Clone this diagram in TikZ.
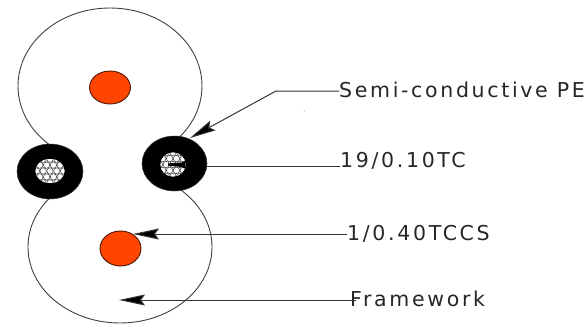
\documentclass[tikz,border=0pt]{standalone}
\usepackage{fontspec}
\setmainfont{DejaVu Sans}[LetterSpace=13]
\usetikzlibrary{arrows.meta}
\definecolor{corecol}{HTML}{FF4500}
\tikzset{
  x=1pt,y=-1pt,
  outline/.style={draw=black!75,line width=0.9pt,fill=white},
  jacket/.style={fill=black,draw=black!80,line width=0.5pt},
  core/.style={fill=corecol,draw=black!70!corecol,line width=0.9pt},
  leader/.style={draw=black!80,line width=1pt},
  headed/.style={leader,-{Stealth[length=26pt,width=11pt,inset=4pt,fill=black]}},
  lab/.style={anchor=base west,inner sep=0pt,font=\fontsize{20.5pt}{24pt}\selectfont,text=black!85}
}
\newcommand{\strands}[2]{%
  \foreach \i in {-3,...,3}{\foreach \j in {-4,...,4}{%
    \pgfmathsetmacro{\px}{#1+\j*6.8+(mod(\i+4,2)==1 ? 3.4 : 0)}%
    \pgfmathsetmacro{\py}{#2+\i*5.9}%
    \draw[fill=white,draw=black!75,line width=0.55pt] (\px,\py) circle[radius=3.2pt];}}}
\begin{document}
\begin{tikzpicture}
\useasboundingbox (0,0) rectangle (587,324);
\path[outline] (110,86) ellipse[x radius=92pt,y radius=78pt];
\path[outline] (120,247) ellipse[x radius=92pt,y radius=76pt];
\fill[white] (60,150) rectangle (170,195);
% cable jackets
\path[jacket] (50,171.5) ellipse[x radius=33pt,y radius=27.5pt];
\path[jacket] (174.5,163.5) ellipse[x radius=32.5pt,y radius=27.5pt];
% conductors
\begin{scope}
\clip (50,171) ellipse[x radius=14.5pt,y radius=12pt];
\fill[white] (30,155) rectangle (70,190);
\strands{50}{171}
\end{scope}
\begin{scope}
\clip (173,164.5) ellipse[x radius=12.5pt,y radius=12pt];
\fill[white] (155,150) rectangle (190,180);
\strands{173}{164.5}
\fill[black] (168,163.4) -- (182,162.5) -- (190,158) -- (190,172) -- (182,167) -- (168,165.6) -- cycle;
\end{scope}
% cores
\path[core] (110,87.5) ellipse[x radius=20.5pt,y radius=16.5pt];
\path[core] (120.5,248.5) ellipse[x radius=20.5pt,y radius=17.5pt];
\fill[black!60] (304,111) circle[radius=0.5pt];
% labels
\node[lab] (semi) at (339,97) {Semi-conductive PE};
\node[lab] (strand) at (340,167) {19/0.10TC};
\node[lab] (ccs) at (347,240) {1/0.40TCCS};
\node[lab] (frame) at (350,306) {Framework};
% anchors for leaders
\coordinate (bend) at (276,91);
\coordinate (tipa) at (190,138);
\coordinate (jacketedge) at (207,166);
\coordinate (tipb) at (133,234);
\coordinate (tipc) at (119,300);
\coordinate (enda) at (semi.base west |- bend);
\coordinate (endb) at (strand.base west |- jacketedge);
\coordinate (endc) at (ccs.base west |- tipb);
\coordinate (endd) at ([xshift=6pt]frame.base west |- tipc);
\draw[headed] (enda) -- (bend) -- (tipa);
\draw[leader] (endb) -- (jacketedge);
\draw[headed] (endc) -- (tipb);
\draw[headed] (endd) -- (tipc);
\end{tikzpicture}
\end{document}
